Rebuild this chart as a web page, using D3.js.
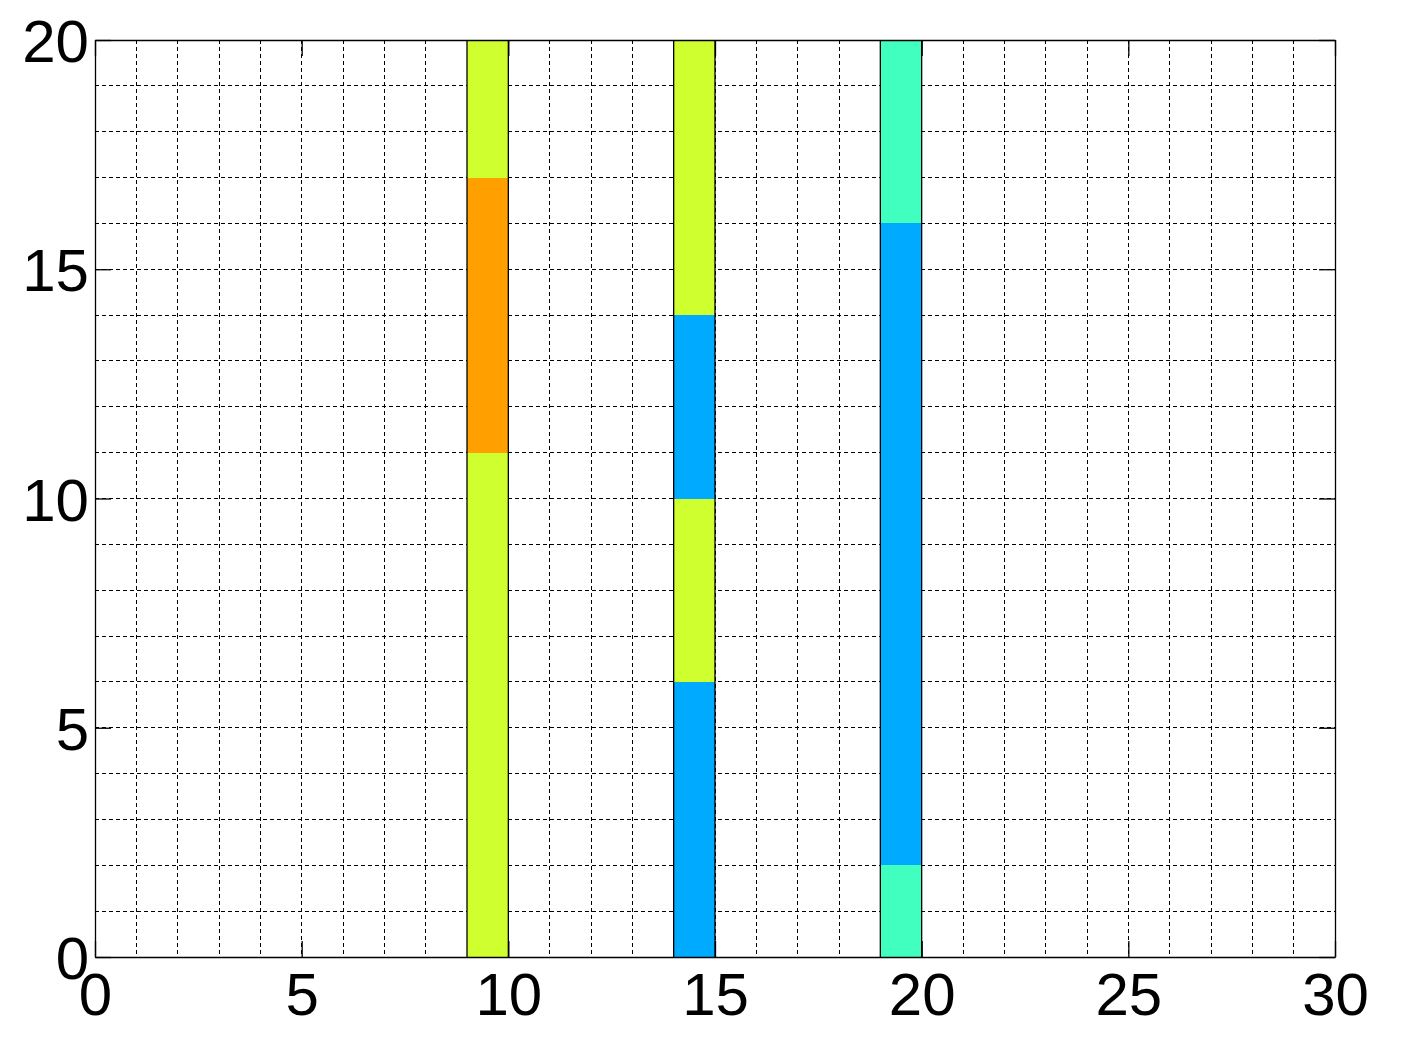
<!DOCTYPE html>
<html>
<head>
<meta charset="utf-8">
<script src="https://cdn.jsdelivr.net/npm/d3@7"></script>
<style>
  html, body { margin: 0; padding: 0; background: #fff; }
  svg text { font-family: "Liberation Sans", Arial, sans-serif; }
</style>
</head>
<body>
<svg id="chart" width="1409" height="1044"></svg>
<script>
// cells of the pcolor-like plot (one row per colored run)
const cellColumn = [9, 9, 9, 14, 14, 14, 14, 19, 19, 19];
const cellFrom   = [0, 11, 17, 0, 6, 10, 14, 0, 2, 16];
const cellTo     = [11, 17, 20, 6, 10, 14, 20, 2, 16, 20];
const cellLevel  = [2, 3, 2, 0, 2, 0, 2, 1, 0, 1];
const levelColors = ['#00aaff', '#40ffbf', '#d0ff30', '#ffa000'];
const xTicks = [0, 5, 10, 15, 20, 25, 30];
const yTicks = [0, 5, 10, 15, 20];

const margin = {top: 40, left: 95};
const width = 1240, height = 917;

const svg = d3.select('#chart');
const g = svg.append('g').attr('transform', `translate(${margin.left},${margin.top})`);

const x = d3.scaleLinear().domain([0, 30]).range([0, width]);
const y = d3.scaleLinear().domain([0, 20]).range([height, 0]);
const color = d3.scaleOrdinal().domain([0, 1, 2, 3]).range(levelColors);

// dashed grid, every unit
g.append('g').selectAll('line.vg')
  .data(d3.range(1, 30))
  .join('line')
  .attr('x1', d => x(d)).attr('x2', d => x(d))
  .attr('y1', 0).attr('y2', height)
  .attr('stroke', '#000').attr('stroke-width', 1)
  .attr('stroke-dasharray', '4,3')
  .attr('shape-rendering', 'crispEdges');

g.append('g').selectAll('line.hg')
  .data(d3.range(1, 20))
  .join('line')
  .attr('y1', d => y(d)).attr('y2', d => y(d))
  .attr('x1', 0).attr('x2', width)
  .attr('stroke', '#000').attr('stroke-width', 1)
  .attr('stroke-dasharray', '4,3')
  .attr('shape-rendering', 'crispEdges');

const cells = cellColumn.map((c, i) => ({c, y0: cellFrom[i], y1: cellTo[i], v: cellLevel[i]}));

g.append('g').selectAll('rect')
  .data(cells)
  .join('rect')
  .attr('x', d => x(d.c))
  .attr('width', d => x(d.c + 1) - x(d.c))
  .attr('y', d => y(d.y1))
  .attr('height', d => y(d.y0) - y(d.y1))
  .attr('fill', d => color(d.v))
  .attr('shape-rendering', 'crispEdges');

// black edges on the sides of each column
const edges = [];
Array.from(new Set(cellColumn)).forEach(c => { edges.push(c, c + 1); });
g.append('g').selectAll('line')
  .data(edges)
  .join('line')
  .attr('x1', d => x(d)).attr('x2', d => x(d))
  .attr('y1', 0).attr('y2', height)
  .attr('stroke', '#000').attr('stroke-width', 1.3);

// axes, ticks inward on all sides
const fmt = d3.format('d');
const bottom = g.append('g').attr('transform', `translate(0,${height})`)
  .call(d3.axisBottom(x).tickValues(xTicks).tickFormat(fmt).tickSize(-16).tickSizeOuter(0).tickPadding(15));
const left = g.append('g')
  .call(d3.axisLeft(y).tickValues(yTicks).tickFormat(fmt).tickSize(-16).tickSizeOuter(0).tickPadding(6));
g.append('g')
  .call(d3.axisTop(x).tickValues(xTicks).tickFormat('').tickSize(-16).tickSizeOuter(0));
g.append('g').attr('transform', `translate(${width},0)`)
  .call(d3.axisRight(y).tickValues(yTicks).tickFormat('').tickSize(-16).tickSizeOuter(0));

g.selectAll('.domain').attr('stroke', '#000').attr('stroke-width', 1.3);
g.selectAll('.tick line').attr('stroke', '#000').attr('stroke-width', 1.3);
g.selectAll('.tick text')
  .attr('fill', '#000')
  .style('font-size', '60px')
  .style('font-family', '"Liberation Sans", Arial, sans-serif');
left.selectAll('.tick text').attr('dy', '0.36em');
</script>
</body>
</html>
